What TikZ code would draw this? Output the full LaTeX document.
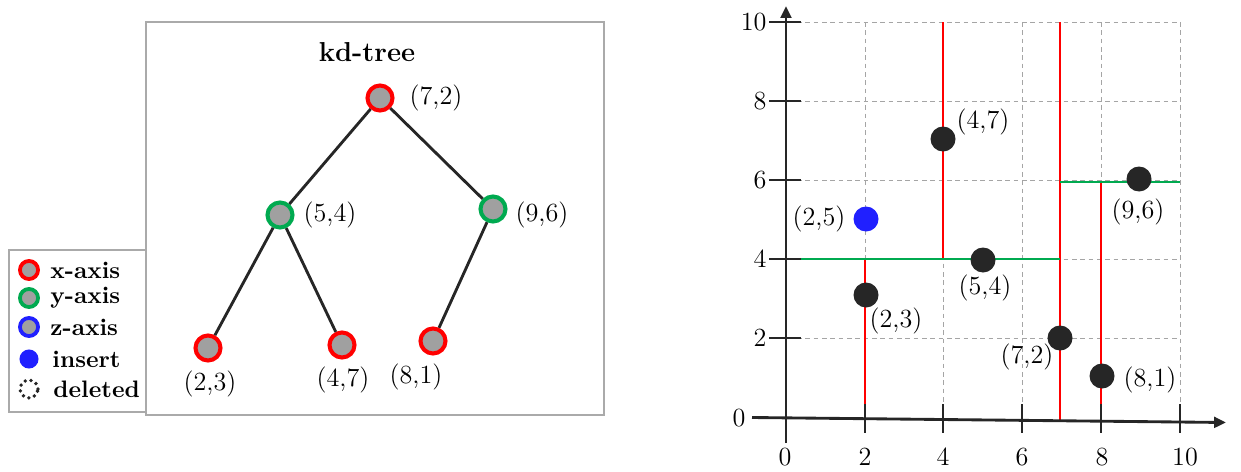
\documentclass[tikz,border=0pt]{standalone}
\usetikzlibrary{arrows.meta}
\definecolor{xred}{RGB}{255,0,0}
\definecolor{ygreen}{RGB}{0,170,80}
\definecolor{zblue}{RGB}{32,32,255}
\definecolor{ink}{RGB}{38,38,38}
\definecolor{nodegray}{RGB}{160,160,160}
\definecolor{boxgray}{RGB}{170,170,170}
\definecolor{gridgray}{RGB}{165,165,165}
\begin{document}
\begin{tikzpicture}[x=0.42pt,y=-0.42pt, font=\fontsize{11}{13}\selectfont,
  tnode/.style={circle, fill=nodegray, line width=1.7pt, minimum size=10.5pt, inner sep=0pt},
  lnode/.style={circle, fill=nodegray, line width=1.6pt, minimum size=7.6pt, inner sep=0pt},
  edge/.style={draw=ink, line width=1.2pt},
  lbl/.style={inner sep=0pt},
  legtext/.style={anchor=west, inner sep=0pt, font=\fontsize{10}{12}\selectfont\bfseries},
  panel/.style={draw=boxgray, line width=0.6pt},
  gridline/.style={draw=gridgray, line width=0.4pt, dash pattern=on 2pt off 1.5pt},
  redsplit/.style={draw=xred, line width=0.9pt},
  greensplit/.style={draw=ygreen, line width=0.9pt},
  axisline/.style={draw=ink, line width=1.2pt, -{Triangle[length=5pt,width=4.5pt]}},
  tick/.style={draw=ink, line width=1.1pt},
  dot/.style={circle, fill=ink, minimum size=10.5pt, inner sep=0pt}
]
\useasboundingbox (0,0) rectangle (1241,471);

% ---------- left panel ----------
\draw[panel] (146,22) rectangle (604,415);
\node[font=\fontsize{11.5}{13}\selectfont\bfseries] (title) at (367,52) {kd-tree};

\node[tnode, draw=xred]   (n72) at (380,98) {};
\node[tnode, draw=ygreen] (n54) at (280,215) {};
\node[tnode, draw=ygreen] (n96) at (493,209) {};
\node[tnode, draw=xred]   (n23) at (208,348) {};
\node[tnode, draw=xred]   (n47) at (342,345) {};
\node[tnode, draw=xred]   (n81) at (433,341) {};

\draw[edge] (n72) -- (n54);
\draw[edge] (n72) -- (n96);
\draw[edge] (n54) -- (n23);
\draw[edge] (n54) -- (n47);
\draw[edge] (n96) -- (n81);

\node[lbl] (t72) at (436,98) {(7,2)};
\node[lbl] (t54) at (330,215) {(5,4)};
\node[lbl] (t96) at (542,215) {(9,6)};
\node[lbl] (t23) at (210,384) {(2,3)};
\node[lbl] (t47) at (343,380) {(4,7)};
\node[lbl] (t81) at (416,377) {(8,1)};

% legend
\draw[panel, fill=white] (9,250) rectangle (146,412);
\node[lnode, draw=xred]   (lx) at (29,270) {};
\node[lnode, draw=ygreen] (ly) at (29,298) {};
\node[lnode, draw=zblue]  (lz) at (29,327) {};
\node[circle, fill=zblue, minimum size=8pt, inner sep=0pt] (li) at (29,359) {};
\node[circle, draw=ink, line width=1.6pt, dash pattern=on 0pt off 2.5pt, line cap=round, minimum size=7.5pt, inner sep=0pt] (ld) at (29,389) {};
\node[legtext] (lxt) at (50,270) {x-axis};
\node[legtext] (lyt) at (50,298) {y-axis};
\node[legtext] (lzt) at (50,327) {z-axis};
\node[legtext] (lit) at (52,359) {insert};
\node[legtext] (ldt) at (53,389) {deleted};

% ---------- right panel ----------
\foreach \gx in {865,943,1022,1101,1180} \draw[gridline] (\gx,22) -- (\gx,418);
\foreach \gy in {22,101,180,259,338} \draw[gridline] (797,\gy) -- (1180,\gy);

\draw[redsplit] (1060,22) -- (1060,420);
\draw[redsplit] (943,22) -- (943,259);
\draw[redsplit] (865,259) -- (865,425);
\draw[redsplit] (1101,182) -- (1101,421);
\draw[greensplit] (786,259) -- (1060,259);
\draw[greensplit] (1060,182) -- (1180,182);

\coordinate (ybot) at (786,443);
\coordinate (ytop) at (786,6);
\coordinate (xleft) at (752,417.5);
\coordinate (xright) at (1226,422.5);
\draw[axisline] (ybot) -- (ytop);
\draw[axisline] (xleft) -- (xright);

\foreach \ty/\tl in {22/10,101/8,180/6,259/4,338/2} {
  \draw[tick] (769,\ty) -- (801,\ty);
  \node[anchor=east, inner sep=0pt] at (767,\ty) {\tl};
}
\node[anchor=east, inner sep=0pt] (y0) at (746,418) {0};
\foreach \tx in {865,943,1022,1101,1180} {
  \draw[tick] (\tx,404) -- (\tx,433);
}
\node[inner sep=0pt] (x0) at (785,457) {0};
\node[inner sep=0pt] (x2) at (865,457) {2};
\node[inner sep=0pt] (x4) at (943,457) {4};
\node[inner sep=0pt] (x6) at (1022,457) {6};
\node[inner sep=0pt] (x8) at (1102,457) {8};
\node[inner sep=0pt] (x10) at (1185,457) {10};

\node[dot] (p47) at (943,139) {};
\node[dot] (p96) at (1139,179) {};
\node[dot, fill=zblue] (p25) at (866,219) {};
\node[dot] (p54) at (983,260) {};
\node[dot] (p23) at (866,295) {};
\node[dot] (p72) at (1060,338) {};
\node[dot] (p81) at (1102,376) {};

\node[lbl] (q47) at (983,122) {(4,7)};
\node[lbl] (q96) at (1138,212) {(9,6)};
\node[lbl] (q25) at (819,219) {(2,5)};
\node[lbl] (q54) at (985,288) {(5,4)};
\node[lbl] (q23) at (896,321) {(2,3)};
\node[lbl] (q72) at (1027,357) {(7,2)};
\node[lbl] (q81) at (1150,380) {(8,1)};
\end{tikzpicture}
\end{document}
